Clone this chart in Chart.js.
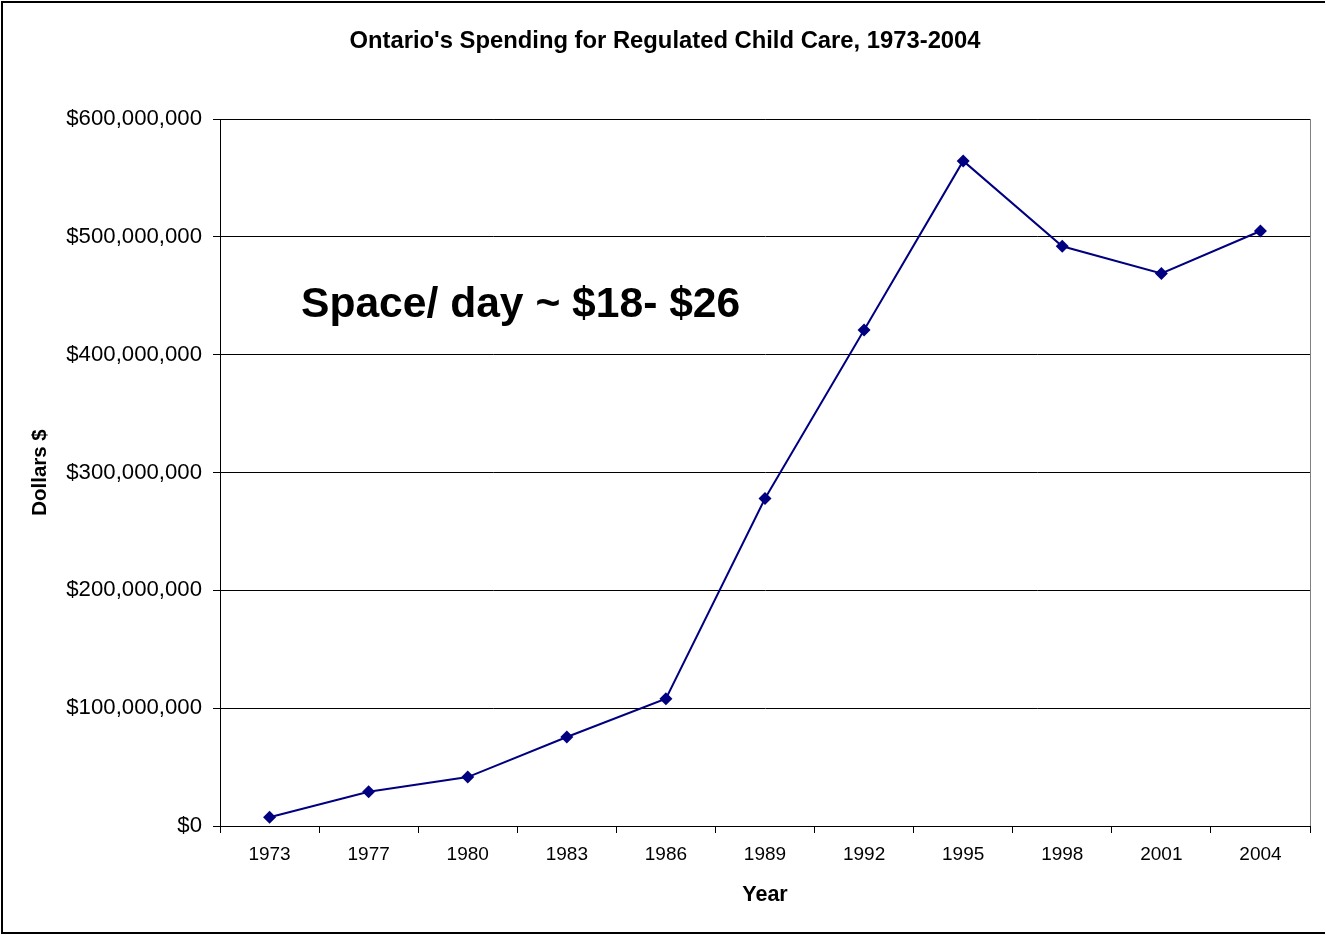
<!DOCTYPE html>
<html>
<head>
<meta charset="utf-8">
<script src="https://cdn.jsdelivr.net/npm/chart.js@4/dist/chart.umd.min.js"></script>
<style>
  html, body { margin: 0; padding: 0; background: #fff; }
  #wrap { width: 1326px; height: 935px; position: relative; }
</style>
</head>
<body>
<div id="wrap"><canvas id="c" width="1326" height="935"></canvas></div>
<script>
const years = ['1973','1977','1980','1983','1986','1989','1992','1995','1998','2001','2004'];
const spending = [7500000, 29000000, 41500000, 75500000, 108000000, 278000000, 421000000, 564500000, 492000000, 469000000, 505000000];
const yTicks = [0, 100000000, 200000000, 300000000, 400000000, 500000000, 600000000];
const chartTitle = "Ontario's Spending for Regulated Child Care, 1973-2004";
const xTitle = 'Year';
const yTitle = 'Dollars $';
const note = 'Space/ day ~ $18- $26';

const FONT = '"Liberation Sans", Arial, sans-serif';

const framePlugin = {
  id: 'frame',
  beforeDraw(chart) {
    const ctx = chart.ctx;
    const a = chart.chartArea;
    ctx.save();
    ctx.fillStyle = '#fff';
    ctx.fillRect(0, 0, chart.width, chart.height);
    ctx.strokeStyle = '#000';
    ctx.lineWidth = 2;
    ctx.beginPath();
    ctx.moveTo(1325, 2);
    ctx.lineTo(2, 2);
    ctx.lineTo(2, 933);
    ctx.lineTo(1325, 933);
    ctx.stroke();
    ctx.strokeStyle = '#808080';
    ctx.lineWidth = 1;
    ctx.strokeRect(Math.round(a.left) + 0.5, Math.round(a.top) + 0.5, Math.round(a.right - a.left), Math.round(a.bottom - a.top));
    ctx.restore();
  },
  afterDatasetsDraw(chart) {
    const ctx = chart.ctx;
    ctx.save();
    ctx.fillStyle = '#000';
    ctx.font = 'bold 42.6px ' + FONT;
    ctx.textAlign = 'left';
    ctx.textBaseline = 'alphabetic';
    ctx.fillText(note, 301, 317);
    ctx.restore();
  }
};

new Chart(document.getElementById('c'), {
  type: 'line',
  data: {
    labels: years,
    datasets: [{
      data: spending,
      borderColor: '#000080',
      backgroundColor: '#000080',
      borderWidth: 2,
      pointStyle: 'rectRot',
      pointRadius: 6.5,
      pointHoverRadius: 6.5,
      pointBorderWidth: 0,
      tension: 0,
      fill: false
    }]
  },
  options: {
    responsive: false,
    animation: false,
    devicePixelRatio: 1,
    layout: { padding: { left: 20, right: 16, top: 0, bottom: 0 } },
    plugins: {
      legend: { display: false },
      tooltip: { enabled: false },
      title: {
        display: true,
        text: chartTitle,
        color: '#000',
        font: { family: FONT, size: 23.8, weight: 'bold' },
        padding: { top: 27.5, bottom: 63 }
      }
    },
    scales: {
      x: {
        type: 'category',
        offset: true,
        grid: { display: true, drawOnChartArea: false, drawTicks: true, tickLength: 7, offset: true, color: '#000' },
        border: { display: true, color: '#000', width: 1 },
        ticks: { color: '#000', font: { family: FONT, size: 19 }, padding: 10, maxRotation: 0, autoSkip: false },
        title: { display: true, text: xTitle, color: '#000', font: { family: FONT, size: 21.5, weight: 'bold' }, padding: { top: 0, bottom: 27 } },
        afterFit(s) { s.height = 109; }
      },
      y: {
        min: 0,
        max: 600000000,
        afterBuildTicks(s) { s.ticks = yTicks.map(v => ({ value: v })); },
        grid: { color: '#000', lineWidth: 1, drawTicks: true, tickLength: 7 },
        border: { display: true, color: '#000', width: 1 },
        ticks: {
          color: '#000',
          font: { family: FONT, size: 22.2 },
          padding: 11,
          callback: v => '$' + Number(v).toLocaleString('en-US')
        },
        title: { display: true, text: yTitle, color: '#000', font: { family: FONT, size: 20.5, weight: 'bold' }, padding: { top: 8.5, bottom: 0 } },
        afterFit(s) { s.width = 200; }
      }
    }
  },
  plugins: [framePlugin]
});
</script>
</body>
</html>
